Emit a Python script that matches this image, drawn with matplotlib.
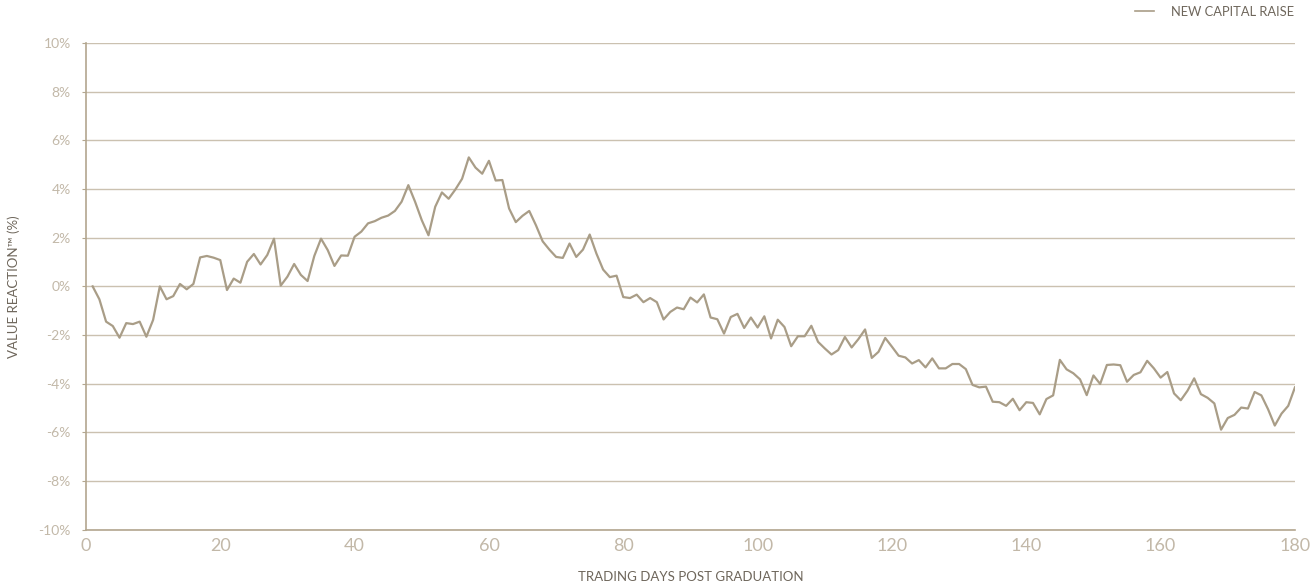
import matplotlib
matplotlib.use('Agg')

import matplotlib.pyplot as plt
import numpy as np

# -------------------
# Data (value reaction in %, days 1..180)
# -------------------
days = np.arange(1, 181)
value_reaction = [
    0.00, -0.53, -1.45, -1.63, -2.11, -1.51, -1.55, -1.45, -2.07, -1.38,
    0.00, -0.53, -0.40, 0.10, -0.12, 0.10, 1.19, 1.25, 1.18, 1.08,
    -0.15, 0.32, 0.15, 1.01, 1.33, 0.90, 1.29, 1.96, 0.03, 0.40,
    0.92, 0.47, 0.22, 1.25, 1.96, 1.49, 0.84, 1.27, 1.26, 2.04,
    2.25, 2.59, 2.68, 2.82, 2.91, 3.10, 3.48, 4.16, 3.48, 2.72,
    2.10, 3.27, 3.86, 3.60, 3.98, 4.42, 5.30, 4.88, 4.63, 5.16,
    4.35, 4.37, 3.20, 2.64, 2.90, 3.10, 2.51, 1.85, 1.51, 1.21,
    1.17, 1.76, 1.21, 1.51, 2.13, 1.35, 0.69, 0.38, 0.44, -0.44,
    -0.48, -0.34, -0.65, -0.48, -0.65, -1.36, -1.05, -0.87, -0.94, -0.46,
    -0.66, -0.33, -1.28, -1.35, -1.94, -1.26, -1.13, -1.71, -1.28, -1.69,
    -1.23, -2.14, -1.37, -1.67, -2.46, -2.05, -2.05, -1.62, -2.28, -2.55,
    -2.80, -2.62, -2.08, -2.51, -2.17, -1.77, -2.94, -2.69, -2.12, -2.48,
    -2.85, -2.92, -3.17, -3.03, -3.33, -2.96, -3.37, -3.37, -3.19, -3.19,
    -3.40, -4.05, -4.15, -4.12, -4.74, -4.76, -4.91, -4.62, -5.09, -4.76,
    -4.79, -5.26, -4.63, -4.48, -3.02, -3.41, -3.57, -3.82, -4.47, -3.66,
    -4.01, -3.23, -3.21, -3.24, -3.92, -3.64, -3.53, -3.06, -3.37, -3.75,
    -3.52, -4.40, -4.68, -4.29, -3.78, -4.43, -4.58, -4.81, -5.89, -5.41,
    -5.28, -4.98, -5.02, -4.34, -4.48, -5.05, -5.72, -5.23, -4.91, -4.15,
]
x_ticks = [0, 20, 40, 60, 80, 100, 120, 140, 160, 180]
y_ticks = [-10, -8, -6, -4, -2, 0, 2, 4, 6, 8, 10]

line_color = '#a99d87'
grid_color = '#cbc1b0'
spine_color = '#b3a68f'
tick_color = '#c2b8a8'
label_color = '#6e665b'

plt.rcParams['font.family'] = ['Lato', 'DejaVu Sans']

fig = plt.figure(figsize=(13.12, 5.87), dpi=100)
ax = fig.add_axes([0.0655, 0.0976, 0.9215, 0.8291])

ax.plot(days, value_reaction, color=line_color, linewidth=1.6,
        label='NEW CAPITAL RAISE')

ax.set_xlim(0, 180)
ax.set_ylim(-10, 10)
ax.set_xticks(x_ticks)
ax.set_yticks(y_ticks)
ax.set_yticklabels([f'{v}%' for v in y_ticks])

ax.grid(axis='y', color=grid_color, linewidth=1)
ax.set_axisbelow(True)
for side in ['top', 'right']:
    ax.spines[side].set_visible(False)
for side in ['left', 'bottom']:
    ax.spines[side].set_color(spine_color)
    ax.spines[side].set_linewidth(1.2)

ax.tick_params(axis='y', length=3, color=spine_color, labelcolor=tick_color,
               labelsize=10, pad=8)
ax.tick_params(axis='x', length=0, labelcolor=tick_color, labelsize=13, pad=6)

ax.set_xlabel('TRADING DAYS POST GRADUATION', color=label_color, fontsize=9.5,
              labelpad=12)
ax.set_ylabel('VALUE REACTION\u2122 (%)', color=label_color, fontsize=9.5,
              va='center')
ax.yaxis.set_label_coords(-72 / 1209, 0.5)

leg = ax.legend(loc='upper right', bbox_to_anchor=(1.009, 1.1), frameon=False,
                fontsize=9.3, handlelength=1.5, handletextpad=1.3)
for t in leg.get_texts():
    t.set_color(label_color)
for ln in leg.get_lines():
    ln.set_linewidth(1.2)

fig.savefig('out.png', dpi=100)
